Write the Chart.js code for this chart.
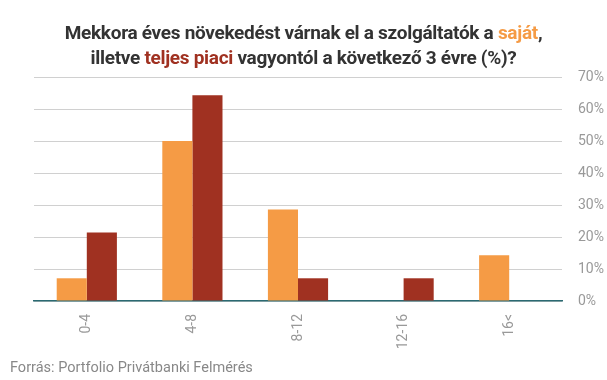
<!DOCTYPE html>
<html>
<head>
<meta charset="utf-8">
<script src="https://cdn.jsdelivr.net/npm/chart.js@4"></script>
<style>
  html, body { margin: 0; padding: 0; background: #fff; }
  body { width: 607px; height: 380px; position: relative; overflow: hidden; font-family: Roboto, sans-serif; }
  #title {
    position: absolute; left: 0; top: 20px; width: 607px; text-align: center;
    font-weight: bold; font-size: 19px; line-height: 25px; color: #333;
    letter-spacing: -0.3px;
  }
  #title .own { color: #f59b45; }
  #title .market { color: #a03121; }
  #source {
    position: absolute; left: 10px; top: 359px; font-size: 14.5px; color: #888;
    letter-spacing: 0px;
  }
  #wrap { position: absolute; left: 0; top: 0; width: 607px; height: 380px; }
</style>
</head>
<body>
<div id="wrap"><canvas id="myChart"></canvas></div>
<div id="title">Mekkora éves növekedést várnak el a szolgáltatók a <span class="own">saját</span>,<br>illetve <span class="market">teljes piaci</span> vagyontól a következő 3 évre (%)?</div>
<div id="source">Forrás: Portfolio Privátbanki Felmérés</div>
<script>
// adatok
const categories = ['0-4', '4-8', '8-12', '12-16', '16<'];
const ownAssets = [7.1, 50, 28.6, 0, 14.3];
const marketAssets = [21.4, 64.3, 7.1, 7.1, 0];
const yTicks = [0, 10, 20, 30, 40, 50, 60, 70];

const ctx = document.getElementById('myChart');

new Chart(ctx, {
  type: 'bar',
  data: {
    labels: categories,
    datasets: [{
      label: 'saját',
      data: ownAssets,
      backgroundColor: '#f59b45',
      categoryPercentage: 0.57,
      barPercentage: 1
    }, {
      label: 'teljes piaci',
      data: marketAssets,
      backgroundColor: '#a03121',
      categoryPercentage: 0.57,
      barPercentage: 1
    }]
  },
  options: {
    responsive: true,
    maintainAspectRatio: false,
    animation: false,
    layout: { padding: { top: 77, left: 34, right: 0, bottom: 0 } },
    plugins: {
      legend: { display: false },
      tooltip: { enabled: false }
    },
    scales: {
      x: {
        grid: { display: false, drawTicks: false },
        border: { display: true, color: '#2b6a72', width: 1.5 },
        ticks: {
          minRotation: 90, maxRotation: 90, padding: 13,
          color: '#999', font: { family: 'Roboto', size: 14 }
        },
        afterFit: function(scale) { scale.height = 79; }
      },
      y: {
        position: 'right',
        min: 0, max: 70,
        afterBuildTicks: function(scale) {
          scale.ticks = yTicks.map(v => ({ value: v }));
        },
        grid: { color: '#d0d0d0', lineWidth: 1, drawTicks: false },
        border: { display: false },
        ticks: {
          padding: 16, color: '#999', font: { family: 'Roboto', size: 14 },
          callback: function(value) { return value + '%'; }
        },
        afterFit: function(scale) { scale.width = 45; }
      }
    }
  }
});
</script>
</body>
</html>
